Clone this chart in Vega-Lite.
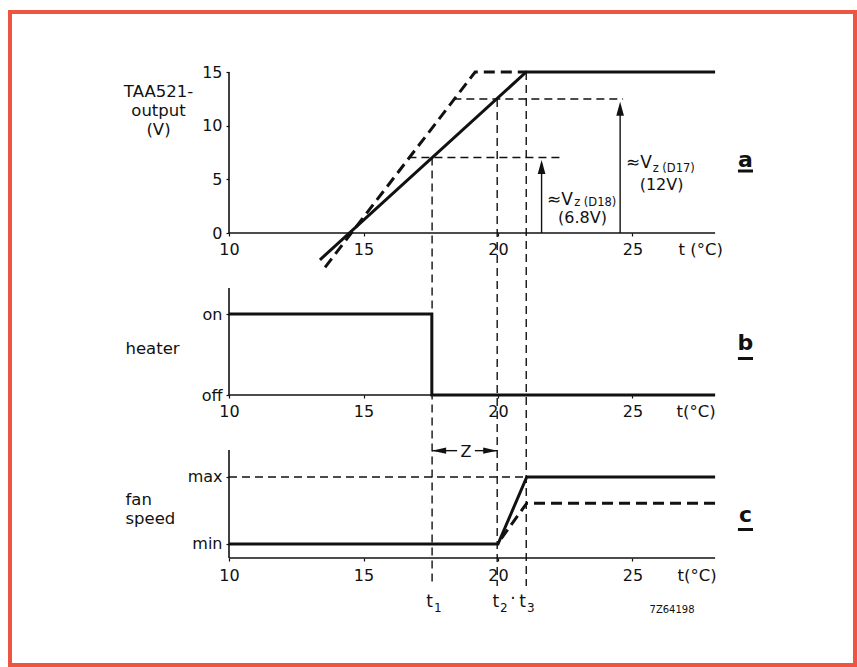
{
  "$schema": "https://vega.github.io/schema/vega-lite/v6.json",
  "width": 845,
  "height": 653,
  "autosize": {"type": "none"},
  "padding": {"left": 10, "top": 12, "right": 2, "bottom": 2},
  "background": "white",
  "config": {
    "view": {"stroke": "#ee5540", "strokeWidth": 4},
    "font": "DejaVu Sans",
    "axis": {
      "domain": false, "grid": false, "ticks": true, "tickSize": 3, "tickColor": "#111", "tickWidth": 1.2,
      "labelFont": "DejaVu Sans", "labelFontSize": 16, "labelColor": "#111", "labelOverlap": false, "labelFlush": false,
      "titleFont": "DejaVu Sans", "titleFontSize": 16.5, "titleFontWeight": "normal", "titleColor": "#111",
      "titleAngle": 0, "titleLineHeight": 19
    },
    "text": {"font": "DejaVu Sans", "fontSize": 16, "color": "#111"}
  },
  "datasets": {
    "a_axes": [{"t": 10, "t2": 28.07, "v": 0, "v2": 0}, {"t": 10, "t2": 10, "v": 0, "v2": 15}],
    "b_axes": [{"t": 10, "t2": 28.07, "v": 0, "v2": 0}, {"t": 10, "t2": 10, "v": 0, "v2": 1.32}],
    "c_axes": [{"t": 10, "t2": 28.07, "v": -0.209, "v2": -0.209}, {"t": 10, "t2": 10, "v": -0.209, "v2": 1.403}],
    "a_solid": [{"i": 0, "t": 13.38, "v": -2.5}, {"i": 1, "t": 21.05, "v": 15}, {"i": 2, "t": 28.07, "v": 15}],
    "a_dashed": [{"i": 0, "t": 13.57, "v": -3.2}, {"i": 1, "t": 19.15, "v": 15}, {"i": 2, "t": 21.05, "v": 15}],
    "a_hguides": [{"t": 16.67, "t2": 22.38, "v": 7.03, "v2": 7.03}, {"t": 18.34, "t2": 24.65, "v": 12.48, "v2": 12.48}],
    "vguides": [
      {"t": 17.55, "t2": 17.55, "v": 7.03, "v2": -32.9},
      {"t": 19.97, "t2": 19.97, "v": 12.48, "v2": -32.9},
      {"t": 21.05, "t2": 21.05, "v": 15, "v2": -32.9}
    ],
    "a_arrows": [{"t": 21.62, "t2": 21.62, "v": 0, "v2": 6.5}, {"t": 24.54, "t2": 24.54, "v": 0, "v2": 11.9}],
    "a_heads": [{"t": 21.62, "v": 6.8}, {"t": 24.54, "v": 12.23}],
    "a_text_big": [{"t": 21.82, "v": 2.61, "label": "≈V"}, {"t": 24.76, "v": 6.06, "label": "≈V"}],
    "a_text_sub": [{"t": 22.83, "v": 2.55, "label": "z (D18)"}, {"t": 25.75, "v": 5.71, "label": "z (D17)"}],
    "a_text_val": [{"t": 23.14, "v": 0.93, "label": "(6.8V)"}, {"t": 26.08, "v": 4.0, "label": "(12V)"}],
    "a_tag": [{"t": 29.2, "v": 6.149, "label": "a"}],
    "a_tag_line": [{"t": 28.92, "t2": 29.48, "v": 5.777, "v2": 5.777}],
    "b_heater": [{"i": 0, "t": 10, "v": 1}, {"i": 1, "t": 17.54, "v": 1}, {"i": 2, "t": 17.54, "v": 0}, {"i": 3, "t": 28.07, "v": 0}],
    "b_tag": [{"t": 29.2, "v": 0.5556, "label": "b"}],
    "b_tag_line": [{"t": 28.92, "t2": 29.48, "v": 0.4506, "v2": 0.4506}],
    "c_solid": [{"i": 0, "t": 10, "v": 0}, {"i": 1, "t": 20.0, "v": 0}, {"i": 2, "t": 21.07, "v": 1}, {"i": 3, "t": 28.07, "v": 1}],
    "c_dashed": [{"i": 0, "t": 20.12, "v": 0.08}, {"i": 1, "t": 21.07, "v": 0.61}, {"i": 2, "t": 28.07, "v": 0.61}],
    "c_maxguide": [{"t": 10, "t2": 21.07, "v": 1, "v2": 1}],
    "c_zshaft": [{"t": 17.55, "t2": 18.48, "v": 1.393, "v2": 1.393}, {"t": 19.14, "t2": 19.97, "v": 1.393, "v2": 1.393}],
    "c_zleft": [{"t": 17.55, "v": 1.393}],
    "c_zright": [{"t": 19.97, "v": 1.393}],
    "c_ztext": [{"t": 18.81, "v": 1.3, "label": "Z"}],
    "c_tletters": [
      {"t": 17.58, "v": -0.94, "label": "t"},
      {"t": 20.04, "v": -0.94, "label": "t"},
      {"t": 21.04, "v": -0.94, "label": "t"}
    ],
    "c_tsubs": [
      {"t": 17.62, "v": -1.015, "label": "1"},
      {"t": 20.07, "v": -1.015, "label": "2"},
      {"t": 21.08, "v": -1.015, "label": "3"}
    ],
    "c_dot": [{"t": 20.56, "v": -0.9, "label": "·"}],
    "c_code": [{"t": 26.47, "v": -1.03, "label": "7Z64198"}],
    "c_tag": [{"t": 29.2, "v": 0.3284, "label": "c"}],
    "c_tag_line": [{"t": 28.92, "t2": 29.48, "v": 0.2164, "v2": 0.2164}]
  },
  "layer": [
    {
      "encoding": {
        "x": {"field": "t", "type": "quantitative", "scale": {"domain": [1.8587, 33.2714], "nice": false, "zero": false},
          "axis": {"orient": "bottom", "values": [10, 15, 20, 25], "offset": -432, "labelPadding": 5, "title": "t (°C)", "titleX": 668, "titleY": 21, "titleAlign": "left", "titleBaseline": "alphabetic"}},
        "y": {"field": "v", "type": "quantitative", "scale": {"domain": [-40.25, 20.591], "nice": false, "zero": false},
          "axis": {"orient": "left", "values": [0, 5, 10, 15], "offset": -219, "labelPadding": 4, "title": ["TAA521-", "output", "(V)"], "titleX": -71, "titleY": 84, "titleAlign": "center", "titleBaseline": "alphabetic"}}
      },
      "layer": [
        {"data": {"name": "a_axes"}, "mark": {"type": "rule", "color": "#111", "strokeWidth": 1.6}, "encoding": {"x2": {"field": "t2"}, "y2": {"field": "v2"}}},
        {"data": {"name": "vguides"}, "mark": {"type": "rule", "color": "#111", "strokeWidth": 1.4, "strokeDash": [8, 5]}, "encoding": {"x2": {"field": "t2"}, "y2": {"field": "v2"}}},
        {"data": {"name": "a_hguides"}, "mark": {"type": "rule", "color": "#111", "strokeWidth": 1.4, "strokeDash": [8, 5]}, "encoding": {"x2": {"field": "t2"}, "y2": {"field": "v2"}}},
        {"data": {"name": "a_arrows"}, "mark": {"type": "rule", "color": "#111", "strokeWidth": 1.4}, "encoding": {"x2": {"field": "t2"}, "y2": {"field": "v2"}}},
        {"data": {"name": "a_heads"}, "mark": {"type": "point", "shape": "M0,0L-0.55,2L0.55,2Z", "size": 196, "filled": true, "opacity": 1, "color": "#111"}, "encoding": {}},
        {"data": {"name": "a_solid"}, "mark": {"type": "line", "color": "#111", "strokeWidth": 3}, "encoding": {"order": {"field": "i"}}},
        {"data": {"name": "a_dashed"}, "mark": {"type": "line", "color": "#111", "strokeWidth": 3, "strokeDash": [11, 6]}, "encoding": {"order": {"field": "i"}}},
        {"data": {"name": "a_text_big"}, "mark": {"type": "text", "align": "left", "baseline": "alphabetic", "fontSize": 17}, "encoding": {"text": {"field": "label"}}},
        {"data": {"name": "a_text_sub"}, "mark": {"type": "text", "align": "left", "baseline": "alphabetic", "fontSize": 11.5}, "encoding": {"text": {"field": "label"}}},
        {"data": {"name": "a_text_val"}, "mark": {"type": "text", "align": "center", "baseline": "alphabetic", "fontSize": 16}, "encoding": {"text": {"field": "label"}}},
        {"data": {"name": "a_tag"}, "mark": {"type": "text", "align": "center", "baseline": "alphabetic", "fontSize": 22, "fontWeight": "bold"}, "encoding": {"text": {"field": "label"}}},
        {"data": {"name": "a_tag_line"}, "mark": {"type": "rule", "color": "#111", "strokeWidth": 3}, "encoding": {"x2": {"field": "t2"}, "y2": {"field": "v2"}}}
      ]
    },
    {
      "encoding": {
        "x": {"field": "t", "type": "quantitative", "scale": {"domain": [1.8587, 33.2714], "nice": false, "zero": false},
          "axis": {"orient": "bottom", "values": [10, 15, 20, 25], "offset": -270, "labelPadding": 5, "title": "t(°C)", "titleX": 666, "titleY": 21, "titleAlign": "left", "titleBaseline": "alphabetic"}},
        "y": {"field": "v", "type": "quantitative", "scale": {"domain": [-3.3333, 4.7284], "nice": false, "zero": false},
          "axis": {"orient": "left", "values": [0, 1], "offset": -219, "labelPadding": 4, "labelExpr": "datum.value == 1 ? 'on' : 'off'", "title": "heater", "titleX": -77, "titleY": 341, "titleAlign": "center", "titleBaseline": "alphabetic"}}
      },
      "layer": [
        {"data": {"name": "b_axes"}, "mark": {"type": "rule", "color": "#111", "strokeWidth": 1.6}, "encoding": {"x2": {"field": "t2"}, "y2": {"field": "v2"}}},
        {"data": {"name": "b_heater"}, "mark": {"type": "line", "color": "#111", "strokeWidth": 3}, "encoding": {"order": {"field": "i"}}},
        {"data": {"name": "b_tag"}, "mark": {"type": "text", "align": "center", "baseline": "alphabetic", "fontSize": 22, "fontWeight": "bold"}, "encoding": {"text": {"field": "label"}}},
        {"data": {"name": "b_tag_line"}, "mark": {"type": "rule", "color": "#111", "strokeWidth": 3}, "encoding": {"x2": {"field": "t2"}, "y2": {"field": "v2"}}}
      ]
    },
    {
      "encoding": {
        "x": {"field": "t", "type": "quantitative", "scale": {"domain": [1.8587, 33.2714], "nice": false, "zero": false},
          "axis": {"orient": "bottom", "values": [10, 15, 20, 25], "offset": -107, "labelPadding": 6, "title": "t(°C)", "titleX": 667, "titleY": 22, "titleAlign": "left", "titleBaseline": "alphabetic"}},
        "y": {"field": "v", "type": "quantitative", "scale": {"domain": [-1.806, 7.9403], "nice": false, "zero": false},
          "axis": {"orient": "left", "values": [0, 1], "offset": -219, "labelPadding": 4, "labelExpr": "datum.value == 1 ? 'max' : 'min'", "title": ["fan", "speed"], "titleX": -104, "titleY": 492, "titleAlign": "left", "titleBaseline": "alphabetic"}}
      },
      "layer": [
        {"data": {"name": "c_axes"}, "mark": {"type": "rule", "color": "#111", "strokeWidth": 1.6}, "encoding": {"x2": {"field": "t2"}, "y2": {"field": "v2"}}},
        {"data": {"name": "c_maxguide"}, "mark": {"type": "rule", "color": "#111", "strokeWidth": 1.4, "strokeDash": [8, 5]}, "encoding": {"x2": {"field": "t2"}, "y2": {"field": "v2"}}},
        {"data": {"name": "c_zshaft"}, "mark": {"type": "rule", "color": "#111", "strokeWidth": 1.4}, "encoding": {"x2": {"field": "t2"}, "y2": {"field": "v2"}}},
        {"data": {"name": "c_zleft"}, "mark": {"type": "point", "shape": "M0,0L2,-0.45L2,0.45Z", "size": 196, "filled": true, "opacity": 1, "color": "#111"}, "encoding": {}},
        {"data": {"name": "c_zright"}, "mark": {"type": "point", "shape": "M0,0L-2,-0.45L-2,0.45Z", "size": 196, "filled": true, "opacity": 1, "color": "#111"}, "encoding": {}},
        {"data": {"name": "c_ztext"}, "mark": {"type": "text", "align": "center", "baseline": "alphabetic", "fontSize": 16}, "encoding": {"text": {"field": "label"}}},
        {"data": {"name": "c_solid"}, "mark": {"type": "line", "color": "#111", "strokeWidth": 3}, "encoding": {"order": {"field": "i"}}},
        {"data": {"name": "c_dashed"}, "mark": {"type": "line", "color": "#111", "strokeWidth": 3, "strokeDash": [11, 6]}, "encoding": {"order": {"field": "i"}}},
        {"data": {"name": "c_tletters"}, "mark": {"type": "text", "align": "right", "baseline": "alphabetic", "fontSize": 17}, "encoding": {"text": {"field": "label"}}},
        {"data": {"name": "c_tsubs"}, "mark": {"type": "text", "align": "left", "baseline": "alphabetic", "fontSize": 12}, "encoding": {"text": {"field": "label"}}},
        {"data": {"name": "c_dot"}, "mark": {"type": "text", "align": "center", "baseline": "alphabetic", "fontSize": 17}, "encoding": {"text": {"field": "label"}}},
        {"data": {"name": "c_code"}, "mark": {"type": "text", "align": "center", "baseline": "alphabetic", "fontSize": 10}, "encoding": {"text": {"field": "label"}}},
        {"data": {"name": "c_tag"}, "mark": {"type": "text", "align": "center", "baseline": "alphabetic", "fontSize": 22, "fontWeight": "bold"}, "encoding": {"text": {"field": "label"}}},
        {"data": {"name": "c_tag_line"}, "mark": {"type": "rule", "color": "#111", "strokeWidth": 3}, "encoding": {"x2": {"field": "t2"}, "y2": {"field": "v2"}}}
      ]
    }
  ],
  "resolve": {"scale": {"y": "independent"}, "axis": {"x": "independent", "y": "independent"}}
}
